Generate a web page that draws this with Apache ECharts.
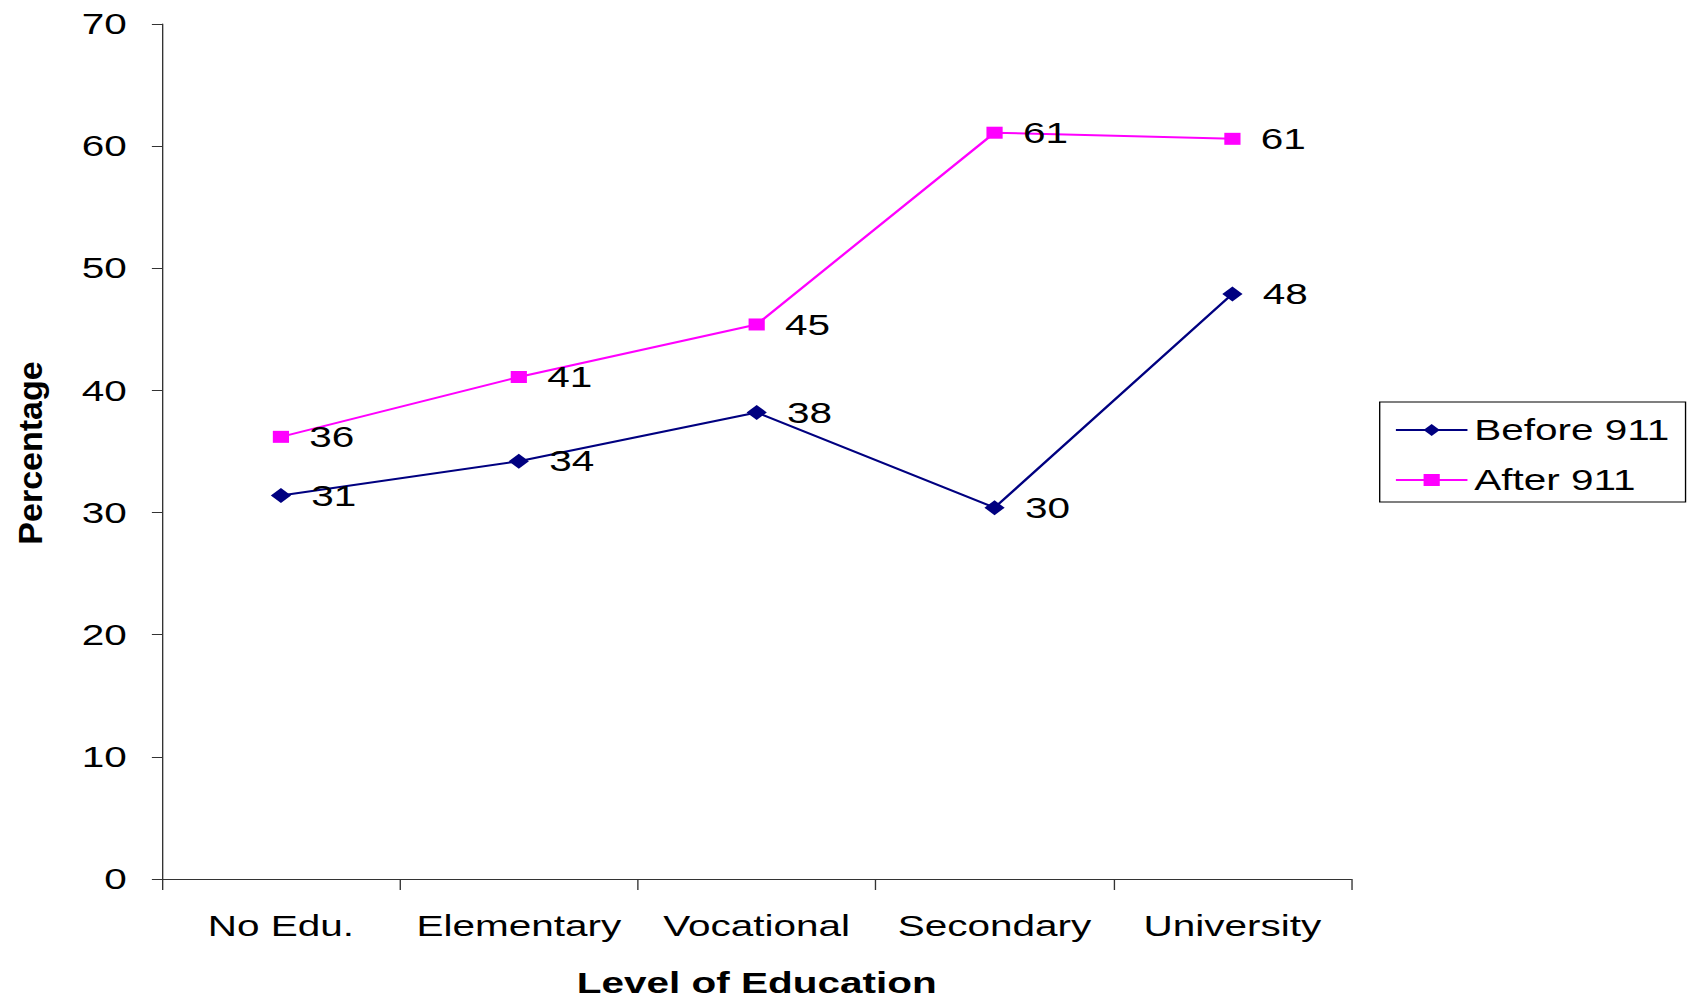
<!DOCTYPE html>
<html>
<head>
<meta charset="utf-8">
<title>Percentage by Level of Education</title>
<script src="https://cdn.jsdelivr.net/npm/echarts@6/dist/echarts.min.js"></script>
<style>
  html, body { margin: 0; padding: 0; background: #fff; overflow: hidden; width: 1690px; height: 1003px; }
  /* The chart is laid out in a narrower box and widened, giving the broad lettering and markers of the original figure */
  #chart { width: 1252px; height: 1003px; transform: scaleX(1.35); transform-origin: 0 0; }
</style>
</head>
<body>
<div id="chart"></div>
<script>
const categories = ['No Edu.', 'Elementary', 'Vocational', 'Secondary', 'University'];
const beforeValues = [31.4, 34.2, 38.2, 30.4, 47.9];
const afterValues = [36.2, 41.1, 45.4, 61.1, 60.6];
const seriesNames = ['Before 911', 'After 911'];
const xTitle = 'Level of Education';
const yTitle = 'Percentage';
const yMin = 0, yMax = 70, yStep = 10;

const FONT = "'Liberation Sans', Arial, sans-serif";
const WIDEN = 1.35;

const chart = echarts.init(document.getElementById('chart'), null, { renderer: 'svg' });

const dataLabel = {
  show: true,
  position: 'right',
  distance: 15,
  color: '#000',
  fontSize: 30,
  fontFamily: FONT,
  formatter: p => String(Math.round(p.value))
};

chart.setOption({
  animation: false,
  backgroundColor: '#fff',
  grid: { left: 120, right: 251, top: 24, bottom: 122, containLabel: false },
  legend: {
    orient: 'vertical',
    left: 1022,
    top: 402,
    padding: [11, 12, 5, 11],
    itemGap: 16,
    itemWidth: 53,
    itemHeight: 15,
    borderColor: '#000',
    borderWidth: 1,
    textStyle: { fontSize: 30, fontFamily: FONT, color: '#000', lineHeight: 34, padding: [0, 0, 0, 0] },
    data: seriesNames
  },
  xAxis: {
    type: 'category',
    data: categories,
    boundaryGap: true,
    name: xTitle,
    nameLocation: 'middle',
    nameGap: 89,
    nameTextStyle: { fontSize: 30, fontWeight: 'bold', fontFamily: FONT, color: '#000' },
    axisLine: { lineStyle: { color: '#333', width: 1 } },
    axisTick: { show: true, interval: 0, length: 11, lineStyle: { color: '#333' } },
    axisLabel: { interval: 0, margin: 32, fontSize: 30, fontFamily: FONT, color: '#000' },
    splitLine: { show: false }
  },
  yAxis: {
    type: 'value',
    min: yMin,
    max: yMax,
    interval: yStep,
    axisLine: { show: true, lineStyle: { color: '#333', width: 1 } },
    axisTick: { show: true, length: 7.5, lineStyle: { color: '#333' } },
    axisLabel: { margin: 26, fontSize: 30, fontFamily: FONT, color: '#000' },
    splitLine: { show: false }
  },
  graphic: [{
    type: 'text',
    x: 22,
    y: 453,
    rotation: Math.PI / 2,
    scaleY: 1 / WIDEN,
    style: {
      text: yTitle,
      fontSize: 34,
      fontWeight: 'bold',
      fontFamily: FONT,
      fill: '#000',
      align: 'center',
      verticalAlign: 'middle'
    }
  }],
  series: [
    {
      name: seriesNames[0],
      type: 'line',
      data: beforeValues,
      symbol: 'diamond',
      symbolSize: 15,
      color: '#000080',
      lineStyle: { color: '#000080', width: 2 },
      itemStyle: { color: '#000080' },
      label: dataLabel,
      z: 3
    },
    {
      name: seriesNames[1],
      type: 'line',
      data: afterValues,
      symbol: 'rect',
      symbolSize: 12,
      color: '#FF00FF',
      lineStyle: { color: '#FF00FF', width: 2 },
      itemStyle: { color: '#FF00FF' },
      label: dataLabel,
      z: 2
    }
  ]
});
</script>
</body>
</html>
